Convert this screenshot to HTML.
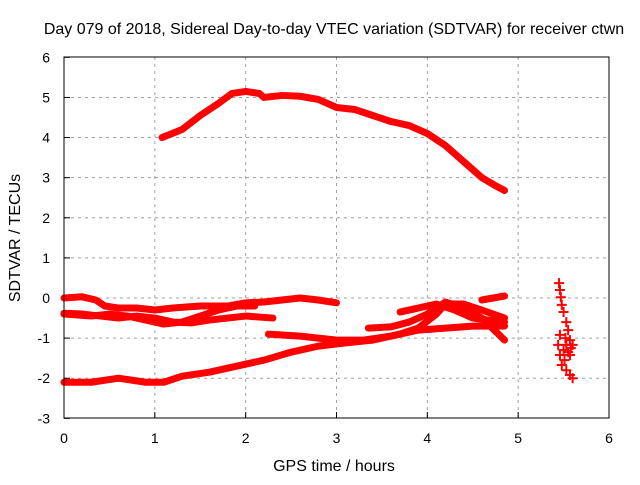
<!DOCTYPE html>
<html><head><meta charset="utf-8"><style>
body{margin:0;background:#fff;}
svg text{font-family:"Liberation Sans",sans-serif;font-size:14px;fill:#000;}
</style></head><body>
<svg id="chart" width="640" height="480">
<text x="334" y="34" text-anchor="middle" style="font-size:16px">Day 079 of 2018, Sidereal Day-to-day VTEC variation (SDTVAR) for receiver ctwn</text>
<text x="334" y="471" text-anchor="middle" style="font-size:16px">GPS time / hours</text>
<text transform="translate(20,238) rotate(-90)" text-anchor="middle" style="font-size:16px">SDTVAR / TECUs</text>
<g id="grid"></g><g id="ticks"></g><g id="marks"></g>
<rect x="64" y="57" width="545" height="361" fill="none" stroke="#000" stroke-width="1"/>
</svg>
<script>
const xTicks=[0,1,2,3,4,5,6];
const yTicks=[-3,-2,-1,0,1,2,3,4,5,6];
const s1=[[1.08,4.0],[1.3,4.2],[1.5,4.55],[1.7,4.85],[1.85,5.1],[2.0,5.15],[2.15,5.1],[2.2,5.0],[2.4,5.05],[2.6,5.03],[2.8,4.95],[3.0,4.75],[3.2,4.7],[3.4,4.55],[3.6,4.4],[3.8,4.3],[4.0,4.1],[4.2,3.8],[4.4,3.4],[4.6,3.0],[4.75,2.8],[4.85,2.68]];
const s2=[[0,0],[0.2,0.03],[0.35,-0.05],[0.45,-0.2],[0.6,-0.25],[0.8,-0.25],[1.0,-0.3],[1.2,-0.25],[1.5,-0.2],[1.8,-0.2],[2.0,-0.12],[2.2,-0.1],[2.4,-0.05],[2.6,0.0],[2.8,-0.05],[3.0,-0.12]];
const s3=[[0,-0.38],[0.2,-0.4],[0.4,-0.45],[0.6,-0.5],[0.8,-0.45],[1.0,-0.5],[1.2,-0.6],[1.4,-0.62],[1.6,-0.55],[1.8,-0.5],[2.0,-0.45],[2.3,-0.5]];
const s4=[[0,-0.4],[0.3,-0.45],[0.5,-0.4],[0.7,-0.45],[0.9,-0.55],[1.1,-0.65],[1.3,-0.6],[1.5,-0.45],[1.7,-0.3],[1.9,-0.2],[2.1,-0.2]];
const s5=[[2.25,-0.9],[2.6,-0.95],[2.8,-1.0],[3.0,-1.05],[3.3,-1.05],[3.6,-0.95],[3.9,-0.8],[4.2,-0.75],[4.5,-0.7],[4.85,-0.7]];
const s6=[[0,-2.1],[0.3,-2.1],[0.6,-2.0],[0.9,-2.1],[1.1,-2.1],[1.3,-1.95],[1.6,-1.85],[1.9,-1.7],[2.2,-1.55],[2.5,-1.35],[2.8,-1.2],[3.1,-1.12],[3.4,-1.05],[3.7,-0.9],[3.9,-0.75],[4.1,-0.4],[4.2,-0.15],[4.4,-0.15],[4.6,-0.3],[4.85,-0.5]];
const s7=[[3.35,-0.75],[3.6,-0.72],[3.8,-0.6],[4.0,-0.4],[4.2,-0.1],[4.4,-0.25],[4.6,-0.5],[4.85,-1.05]];
const s8=[[3.7,-0.35],[3.9,-0.25],[4.1,-0.15],[4.3,-0.3],[4.5,-0.5],[4.85,-0.6]];
const s9=[[4.6,-0.05],[4.85,0.05]];
const cluster=[[5.45,0.37],[5.46,0.2],[5.47,0.02],[5.48,-0.17],[5.5,-0.35],[5.53,-0.6],[5.55,-0.8],[5.57,-1.05],[5.46,-0.92],[5.44,-1.17],[5.53,-1.17],[5.6,-1.17],[5.46,-1.42],[5.51,-1.55],[5.57,-1.42],[5.48,-1.67],[5.53,-1.8],[5.57,-1.92],[5.6,-2.0],[5.5,-1.3],[5.55,-1.35],[5.52,-1.0],[5.58,-1.25]];
const svgNS="http://www.w3.org/2000/svg";
const X=v=>64+v*545/6, Y=v=>298-v*361/9;
function mk(tag,attrs,parent){const e=document.createElementNS(svgNS,tag);for(const k in attrs)e.setAttribute(k,attrs[k]);document.getElementById(parent).appendChild(e);return e;}
xTicks.forEach(t=>{
 if(t>0&&t<6){const g=mk('line',{x1:X(t),x2:X(t),y1:57,y2:418,stroke:'#a0a0a0','stroke-dasharray':'3,4'},'grid');
 
 }
 mk('line',{x1:X(t),x2:X(t),y1:418,y2:412,stroke:'#000'},'ticks');
 const tx=mk('text',{x:X(t),y:443,'text-anchor':'middle'},'ticks');tx.textContent=t;
 
 
});
yTicks.forEach(t=>{
 if(t>-3&&t<6){const g=mk('line',{x1:64,x2:609,y1:Y(t),y2:Y(t),stroke:'#a0a0a0','stroke-dasharray':'3,4'},'grid');
 
 }
 mk('line',{x1:64,x2:70,y1:Y(t),y2:Y(t),stroke:'#000'},'ticks');
 const tx=mk('text',{x:50,y:Y(t)+5,'text-anchor':'end'},'ticks');tx.textContent=t;
 
 
});
[s1,s2,s3,s4,s5,s6,s7,s8,s9].forEach((s,i)=>{
 const p=mk('polyline',{points:s.map(d=>X(d[0])+','+Y(d[1])).join(' '),fill:'none',stroke:'#ff0000','stroke-width':7,'stroke-linejoin':'round','stroke-linecap':'round'},'marks');
 
 
});
cluster.forEach(d=>{
 const p=mk('path',{d:`M${X(d[0])-5},${Y(d[1])}h10M${X(d[0])},${Y(d[1])-5}v10`,stroke:'#ff0000','stroke-width':2},'marks');
 
 
});
</script>
</body></html>
